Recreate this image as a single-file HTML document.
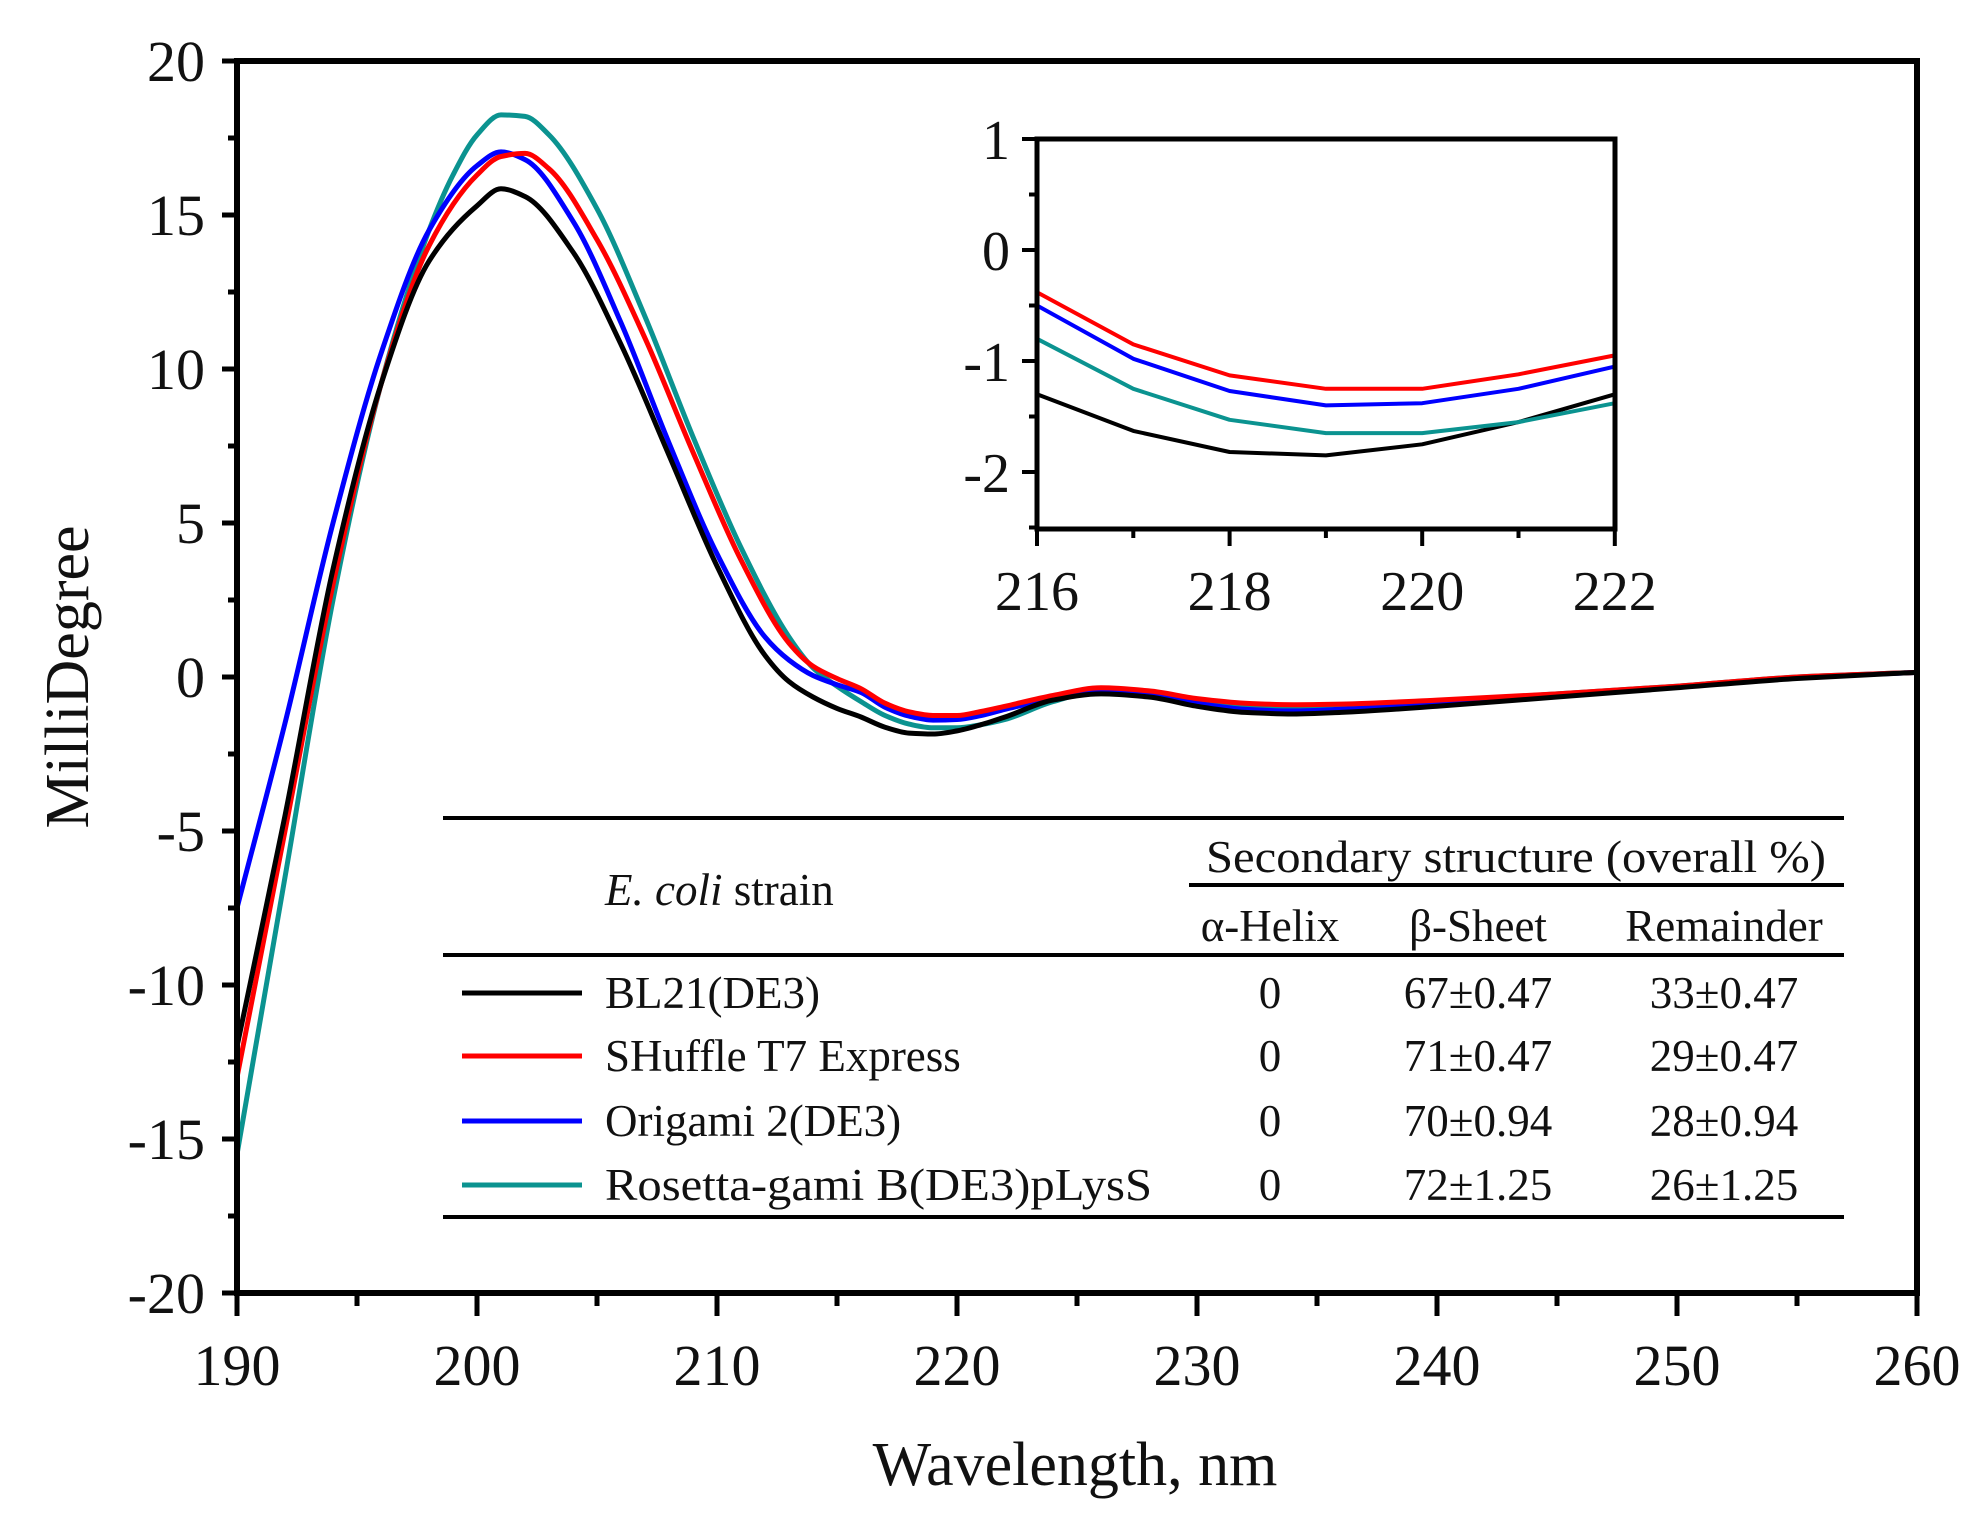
<!DOCTYPE html>
<html><head><meta charset="utf-8"><style>
html,body{margin:0;padding:0;background:#fff}
svg{display:block}
text{font-family:"Liberation Serif","Times New Roman",serif;fill:#111}
</style></head><body>
<svg id="s" width="1984" height="1525" viewBox="0 0 1984 1525" xmlns="http://www.w3.org/2000/svg">
<g id="curves" fill="none" stroke-width="5" stroke-linejoin="round"></g>
<g id="inset" fill="none" stroke-width="4" stroke-linejoin="round"></g>
<g id="axes" stroke="#000" fill="none"></g>
<g id="labels"></g>
<g stroke="#000" stroke-width="4">
<line x1="443" y1="818" x2="1844" y2="818"/>
<line x1="1189" y1="885" x2="1844" y2="885"/>
<line x1="443" y1="955" x2="1844" y2="955"/>
<line x1="443" y1="1217" x2="1844" y2="1217"/>
</g>
<g stroke-width="5">
<line x1="462" y1="993" x2="582" y2="993" stroke="#000"/>
<line x1="462" y1="1056" x2="582" y2="1056" stroke="#f00"/>
<line x1="462" y1="1121" x2="582" y2="1121" stroke="#00f"/>
<line x1="462" y1="1185" x2="582" y2="1185" stroke="#0b9390"/>
</g>
<g font-size="45">
<text x="605" y="905"><tspan font-style="italic">E. coli</tspan> strain</text>
<text x="1516" y="872" text-anchor="middle" textLength="620" lengthAdjust="spacingAndGlyphs">Secondary structure (overall %)</text>
<text x="1270" y="941" text-anchor="middle">α-Helix</text>
<text x="1478" y="941" text-anchor="middle">β-Sheet</text>
<text x="1724" y="941" text-anchor="middle">Remainder</text>
<text x="605" y="1008">BL21(DE3)</text>
<text x="605" y="1071">SHuffle T7 Express</text>
<text x="605" y="1136">Origami 2(DE3)</text>
<text x="605" y="1200" textLength="547" lengthAdjust="spacingAndGlyphs">Rosetta-gami B(DE3)pLysS</text>
<g text-anchor="middle">
<text x="1270" y="1008">0</text><text x="1478" y="1008">67±0.47</text><text x="1724" y="1008">33±0.47</text>
<text x="1270" y="1071">0</text><text x="1478" y="1071">71±0.47</text><text x="1724" y="1071">29±0.47</text>
<text x="1270" y="1136">0</text><text x="1478" y="1136">70±0.94</text><text x="1724" y="1136">28±0.94</text>
<text x="1270" y="1200">0</text><text x="1478" y="1200">72±1.25</text><text x="1724" y="1200">26±1.25</text>
</g></g>
<text x="1075" y="1485" font-size="62" text-anchor="middle">Wavelength, nm</text>
<text transform="translate(88,677) rotate(-90)" font-size="62" text-anchor="middle">MilliDegree</text>
</svg>
<script>
const NS="http://www.w3.org/2000/svg";
function el(p,t,a,txt){const e=document.createElementNS(NS,t);for(const k in a)e.setAttribute(k,a[k]);if(txt!=null)e.textContent=txt;p.appendChild(e);return e;}
// monotone cubic (Fritsch-Carlson) in data space, then map
function mono(pts,X,Y){const n=pts.length,dx=[],dy=[],m=[],t=new Array(n);
for(let i=0;i<n-1;i++){dx[i]=pts[i+1][0]-pts[i][0];dy[i]=pts[i+1][1]-pts[i][1];m[i]=dy[i]/dx[i];}
t[0]=m[0];t[n-1]=m[n-2];
for(let i=1;i<n-1;i++){if(m[i-1]*m[i]<=0)t[i]=0;else{const w1=2*dx[i]+dx[i-1],w2=dx[i]+2*dx[i-1];t[i]=(w1+w2)/(w1/m[i-1]+w2/m[i]);}}
let d="M"+X(pts[0][0]).toFixed(1)+","+Y(pts[0][1]).toFixed(1);
for(let i=0;i<n-1;i++){const h=dx[i]/3;const x0=pts[i][0],y0=pts[i][1],x1=pts[i+1][0],y1=pts[i+1][1];
d+="C"+X(x0+h).toFixed(1)+","+Y(y0+t[i]*h).toFixed(1)+" "+X(x1-h).toFixed(1)+","+Y(y1-t[i+1]*h).toFixed(1)+" "+X(x1).toFixed(1)+","+Y(y1).toFixed(1);}
return d;}
const X=x=>237+(x-190)*24, Y=y=>677-y*30.8;
const inB=[-1.3,-1.63,-1.82,-1.85,-1.75,-1.55,-1.3],inR=[-0.38,-0.85,-1.13,-1.25,-1.25,-1.12,-0.95],inBl=[-0.5,-0.98,-1.27,-1.4,-1.38,-1.25,-1.05],inT=[-0.8,-1.25,-1.53,-1.65,-1.65,-1.55,-1.38];
const mk=(a,ins,b)=>a.concat(ins.map((v,i)=>[216+i,v])).concat(b);
const S={
"#0b9390":mk([[190,-15.5],[192,-6.5],[194,2.5],[196,9.5],[198,14.5],[199,16.3],[200,17.6],[201,18.25],[202,18.2],[203,17.6],[205,15.2],[207,11.7],[209,7.8],[211,4.2],[213,1.3],[214,0.3],[215,-0.3]],inT,[[224,-0.8],[226,-0.45],[228,-0.5],[230,-0.8],[232,-0.95],[234,-1.0],[236,-0.95],[240,-0.8],[245,-0.55],[250,-0.3],[255,0],[260,0.15]]),
"#0000ff":mk([[190,-7.5],[192,-1.5],[194,5],[196,10.5],[198,14.5],[200,16.6],[201,17.05],[202,16.8],[204,14.8],[206,11.5],[208,7.6],[210,4],[212,1.3],[213,0.55],[214,0.05],[215,-0.25]],inBl,[[224,-0.7],[226,-0.5],[228,-0.55],[230,-0.85],[232,-1.05],[234,-1.1],[236,-1.05],[240,-0.85],[245,-0.6],[250,-0.32],[255,-0.02],[260,0.15]]),
"#ff0000":mk([[190,-13],[192,-5],[194,3],[196,9.5],[198,14],[200,16.3],[201,16.9],[202,17],[203,16.5],[205,14.2],[207,11],[209,7.3],[211,3.8],[213,1.1],[214,0.35],[215,-0.05]],inR,[[224,-0.6],[226,-0.35],[228,-0.45],[230,-0.7],[232,-0.85],[234,-0.9],[236,-0.88],[240,-0.75],[245,-0.55],[250,-0.3],[255,0],[260,0.15]]),
"#000000":mk([[190,-12],[192,-4.5],[194,3.5],[196,9.5],[198,13.5],[200,15.3],[201,15.85],[202,15.6],[204,13.8],[206,10.8],[208,7.2],[210,3.6],[212,0.7],[213,-0.15],[214,-0.65],[215,-1.02]],inB,[[224,-0.75],[226,-0.55],[228,-0.65],[230,-0.95],[232,-1.15],[234,-1.2],[236,-1.15],[240,-0.95],[245,-0.65],[250,-0.35],[255,-0.05],[260,0.15]])};
const g=document.getElementById("curves");
for(const c in S)el(g,"path",{d:mono(S[c],X,Y),stroke:c});
const IX=x=>1037+(x-216)*96.3, IY=y=>250-y*111;
const gi=document.getElementById("inset");
[["#000000",inB],["#0b9390",inT],["#0000ff",inBl],["#ff0000",inR]].forEach(([c,a])=>{el(gi,"polyline",{points:a.map((v,i)=>IX(216+i).toFixed(1)+","+IY(v).toFixed(1)).join(" "),stroke:c});});
const ax=document.getElementById("axes"),lb=document.getElementById("labels");
el(ax,"path",{d:`M237,61 L1917,61 L1917,1293 L237,1293 Z`,"stroke-width":6});
for(let v=-20;v<=20;v+=2.5){const y=Y(v);const maj=v%5===0;el(ax,"line",{x1:237,x2:maj?222:228,y1:y,y2:y,"stroke-width":5});
 if(maj)el(lb,"text",{x:205,y:y+20,"font-size":58,"text-anchor":"end"},String(v));}
for(let x=190;x<=260;x+=5){const px=X(x);const maj=x%10===0;el(ax,"line",{x1:px,x2:px,y1:1293,y2:maj?1316:1306,"stroke-width":5});
 if(maj)el(lb,"text",{x:px,y:1385,"font-size":58,"text-anchor":"middle"},String(x));}
el(ax,"path",{d:`M1037,139 L1615,139 L1615,529 L1037,529 Z`,"stroke-width":5});
for(let v=-2.5;v<=1;v+=0.5){const y=IY(v);const maj=Number.isInteger(v);el(ax,"line",{x1:1037,x2:maj?1022:1029,y1:y,y2:y,"stroke-width":4});
 if(maj)el(lb,"text",{x:1010,y:y+20,"font-size":56,"text-anchor":"end"},String(v));}
for(let x=216;x<=222;x++){const px=IX(x);const maj=x%2===0;el(ax,"line",{x1:px,x2:px,y1:529,y2:maj?546:538,"stroke-width":4});
 if(maj)el(lb,"text",{x:px,y:610,"font-size":56,"text-anchor":"middle"},String(x));}
</script>
</body></html>
